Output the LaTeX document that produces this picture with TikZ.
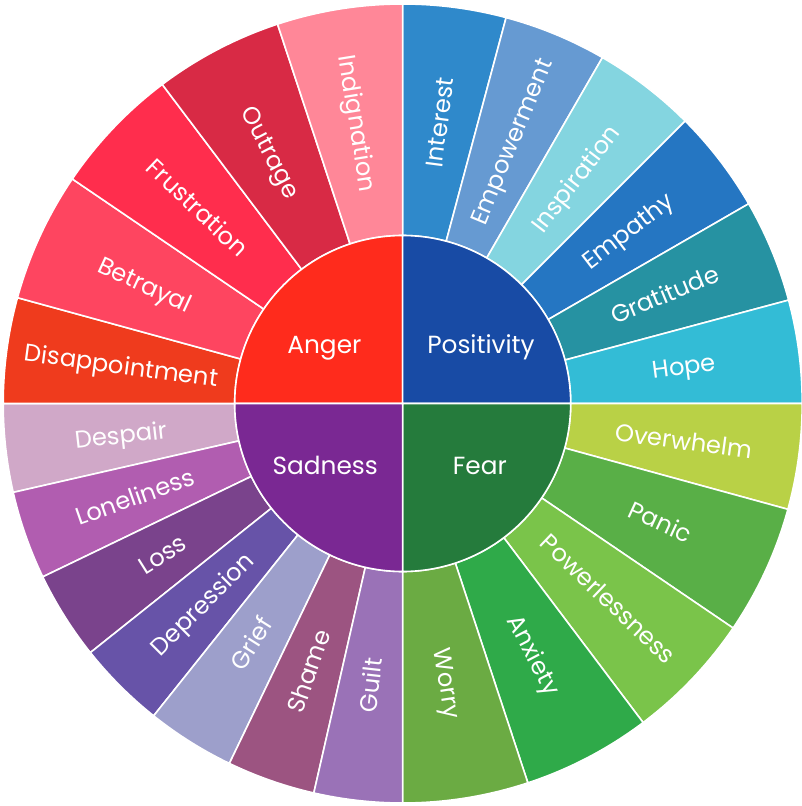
\documentclass[tikz,border=0pt]{standalone}
\usepackage{fontspec}
\setmainfont{Poppins}
\definecolor{cAnger}{HTML}{FF2B1C}
\definecolor{cPositivity}{HTML}{184BA5}
\definecolor{cFear}{HTML}{257B3C}
\definecolor{cSadness}{HTML}{7A2893}
\definecolor{cInterest}{HTML}{2F89CB}
\definecolor{cEmpowerment}{HTML}{669AD2}
\definecolor{cInspiration}{HTML}{84D5E0}
\definecolor{cEmpathy}{HTML}{2576C2}
\definecolor{cGratitude}{HTML}{2692A2}
\definecolor{cHope}{HTML}{33BCD6}
\definecolor{cOverwhelm}{HTML}{B9D146}
\definecolor{cPanic}{HTML}{59AF47}
\definecolor{cPowerlessness}{HTML}{7AC44A}
\definecolor{cAnxiety}{HTML}{2FAA49}
\definecolor{cWorry}{HTML}{6BAB43}
\definecolor{cGuilt}{HTML}{9A72B7}
\definecolor{cShame}{HTML}{9C5481}
\definecolor{cGrief}{HTML}{9D9FCB}
\definecolor{cDepression}{HTML}{6753A8}
\definecolor{cLoss}{HTML}{7A438C}
\definecolor{cLoneliness}{HTML}{B15DB0}
\definecolor{cDespair}{HTML}{D0A8C8}
\definecolor{cDisappointment}{HTML}{EF3B1D}
\definecolor{cBetrayal}{HTML}{FE4560}
\definecolor{cFrustration}{HTML}{FF2D4D}
\definecolor{cOutrage}{HTML}{D82A45}
\definecolor{cIndignation}{HTML}{FF8798}
\begin{document}
\begin{tikzpicture}[x=1pt,y=1pt,
  sector/.style={draw=white,line width=1.6pt,line join=round},
  seglabel/.style={text=white,inner sep=0pt,font=\fontsize{24.2}{29}\selectfont,text height=16.8pt,text depth=0pt,anchor=center},
  corelabel/.style={text=white,inner sep=0pt,font=\fontsize{24.8}{30}\selectfont,text height=18.3pt,text depth=0pt,anchor=center}]
\useasboundingbox (-402.7,-402.5) rectangle (399.3,403.5);
\def\rin{168}
\def\rout{399.5}
\foreach \a/\b/\c/\t in {
  90/75/cInterest/Interest, 75/60/cEmpowerment/Empowerment, 60/45/cInspiration/Inspiration,
  45/30/cEmpathy/Empathy, 30/15/cGratitude/Gratitude, 15/0/cHope/Hope,
  0/-15.36/cOverwhelm/Overwhelm, -15.36/-34.2/cPanic/Panic, -34.2/-53.0/cPowerlessness/Powerlessness,
  -53.0/-71.74/cAnxiety/Anxiety, -71.74/-90/cWorry/Worry,
  180/192.857/cDespair/Despair, 192.857/205.714/cLoneliness/Loneliness, 205.714/218.571/cLoss/Loss,
  218.571/231.429/cDepression/Depression, 231.429/244.286/cGrief/Grief, 244.286/257.143/cShame/Shame,
  257.143/270/cGuilt/Guilt,
  180/164.64/cDisappointment/Disappointment, 164.64/145.8/cBetrayal/Betrayal, 145.8/127.0/cFrustration/Frustration,
  127.0/108.26/cOutrage/Outrage, 108.26/90/cIndignation/Indignation}{
  \pgfmathsetmacro\m{(\a+\b)/2}
  \pgfmathsetmacro\rot{ifthenelse(\m>90,\m-180,\m)}
  \fill[\c,sector] (\a:\rin) -- (\a:\rout) arc[start angle=\a,end angle=\b,radius=\rout] -- (\b:\rin) arc[start angle=\b,end angle=\a,radius=\rin] -- cycle;
  \node[seglabel,rotate=\rot] (n\t) at (\m:283.7) {\t};
}
\fill[cAnger,sector] (0,0) -- (180:\rin) arc[start angle=180,end angle=90,radius=\rin] -- cycle;
\fill[cPositivity,sector] (0,0) -- (90:\rin) arc[start angle=90,end angle=0,radius=\rin] -- cycle;
\fill[cFear,sector] (0,0) -- (0:\rin) arc[start angle=0,end angle=-90,radius=\rin] -- cycle;
\fill[cSadness,sector] (0,0) -- (270:\rin) arc[start angle=270,end angle=180,radius=\rin] -- cycle;
\node[corelabel] (anger) at (-78.3,59.3) {Anger};
\node[corelabel] (positivity) at (78.3,59.3) {Positivity};
\node[corelabel] (sadness) at (-77.5,-62.3) {Sadness};
\node[corelabel] (fear) at (77.2,-62.3) {Fear};
\end{tikzpicture}
\end{document}
